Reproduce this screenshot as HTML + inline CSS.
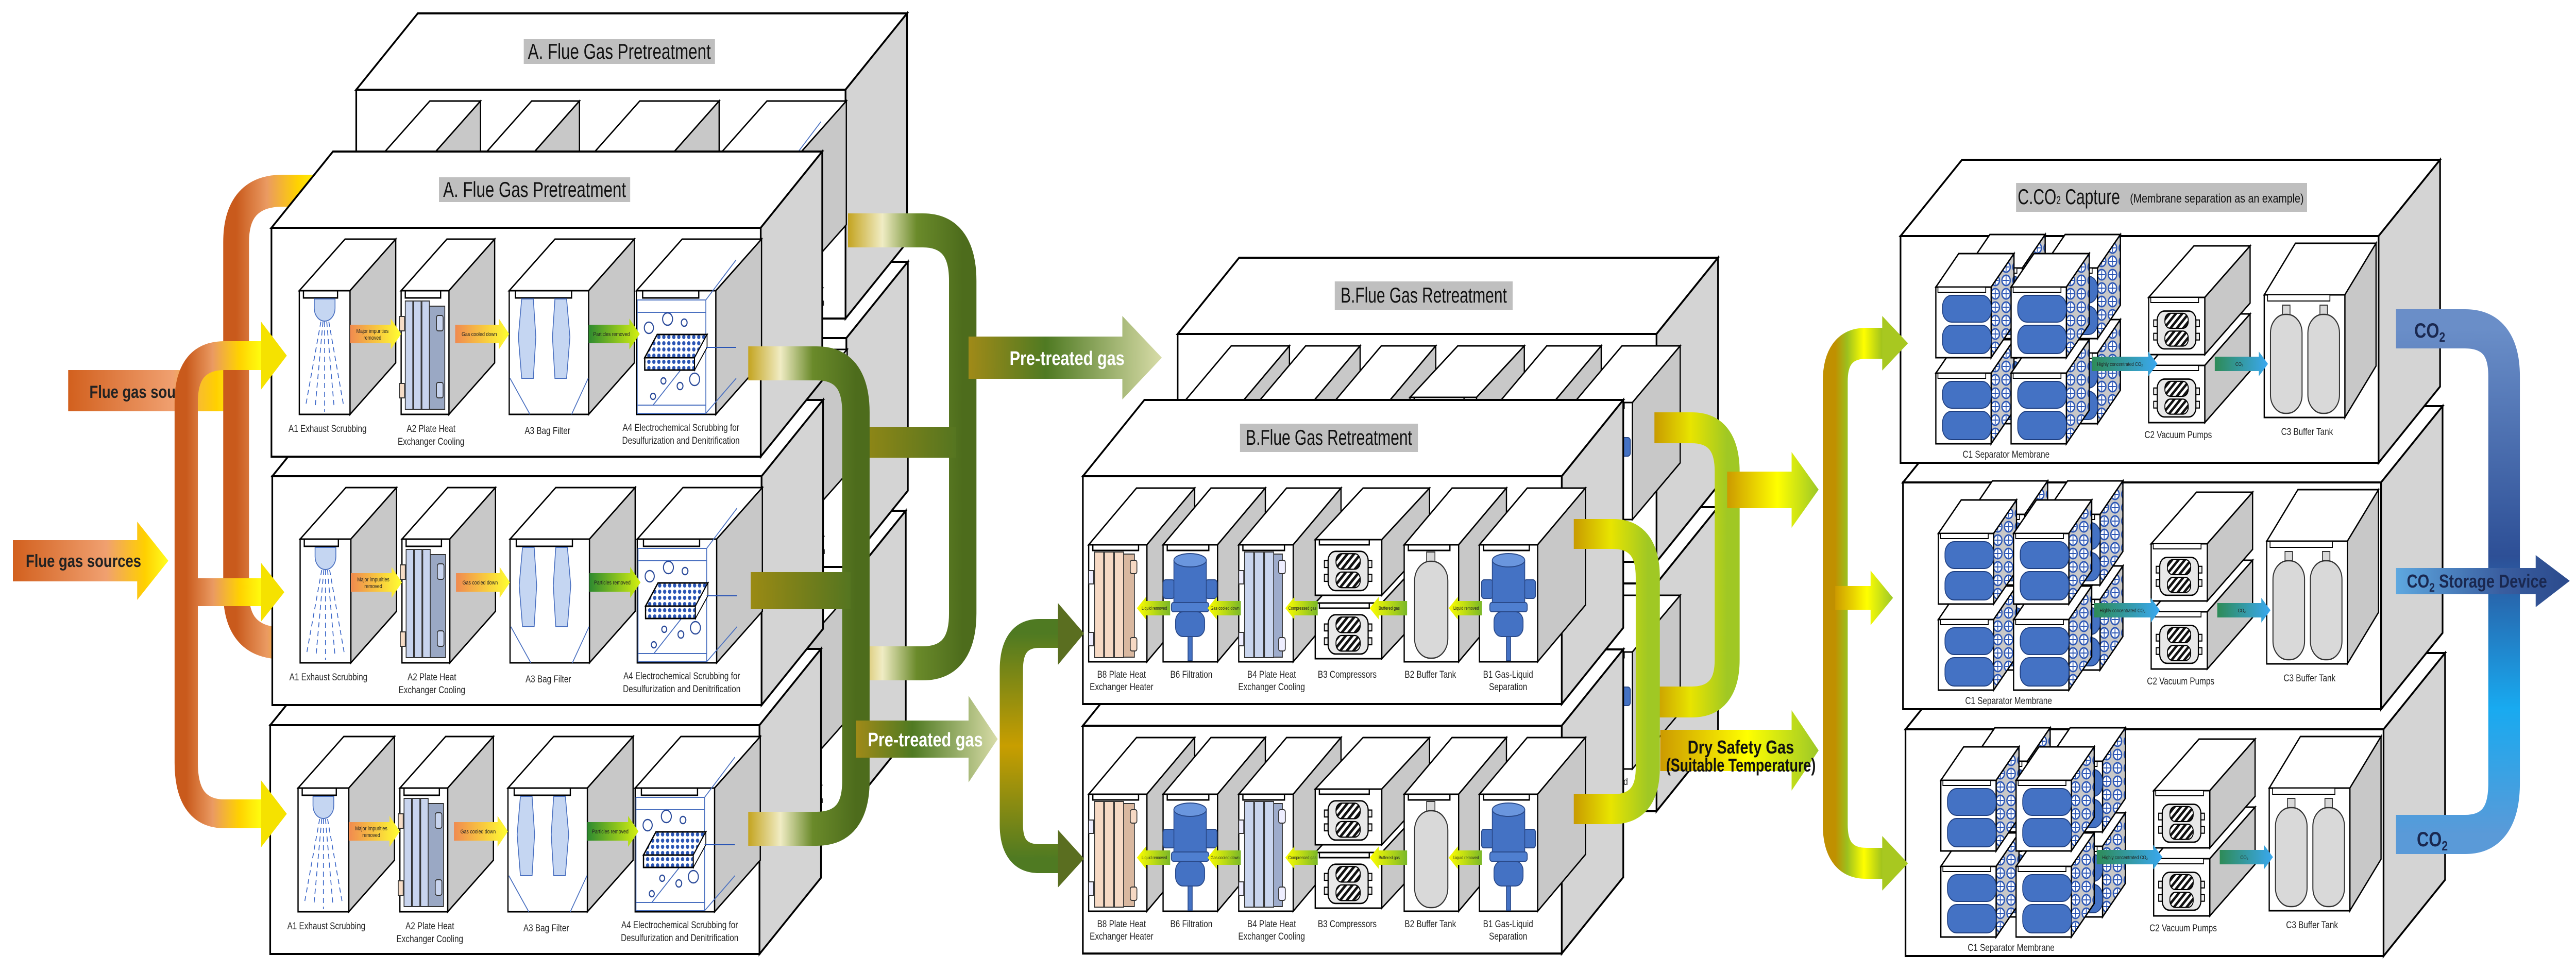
<!DOCTYPE html>
<html><head><meta charset="utf-8"><style>
html,body{margin:0;padding:0;background:#fff;width:100%;height:100%;overflow:hidden}
svg{display:block;position:absolute;left:0;top:0;width:100vw;height:100vh}
.l{font-family:"Liberation Sans Narrow","Liberation Sans",sans-serif;font-size:19px;fill:#222;text-anchor:middle}
.s{font-family:"Liberation Sans Narrow","Liberation Sans",sans-serif;font-size:11px;fill:#222;text-anchor:middle}
.t{font-family:"Liberation Sans",sans-serif;font-size:42px;fill:#111}
.b{font-family:"Liberation Sans",sans-serif;font-weight:bold}
</style></head><body>
<svg viewBox="0 0 6197 1882" preserveAspectRatio="none" xmlns="http://www.w3.org/2000/svg" overflow="hidden">
<defs>
<pattern id="dots" width="12" height="12" patternUnits="userSpaceOnUse"><rect width="12" height="12" fill="#fff"/><circle cx="6" cy="6" r="4" fill="#2a55b5"/></pattern>
<pattern id="hatch" width="10" height="10" patternUnits="userSpaceOnUse" patternTransform="rotate(45)"><rect width="10" height="10" fill="#fff"/><rect width="5" height="10" fill="#111"/></pattern>
<pattern id="mcirc" width="26" height="26" patternUnits="userSpaceOnUse"><rect width="26" height="26" fill="#c8c8c8"/><circle cx="13" cy="13" r="10" fill="#fff" stroke="#2a55b5" stroke-width="3"/><path d="M13,5V21M5,13H21" stroke="#2a55b5" stroke-width="2"/></pattern>
<linearGradient id="gO" x1="0" y1="0" x2="1" y2="0"><stop offset="0" stop-color="#c95a1c"/><stop offset="0.35" stop-color="#ea9a62"/><stop offset="0.7" stop-color="#ffd200"/><stop offset="1" stop-color="#ffff10"/></linearGradient>
<linearGradient id="gOa" x1="0" y1="0" x2="1" y2="0"><stop offset="0" stop-color="#d2601e"/><stop offset="0.6" stop-color="#f0a070"/><stop offset="0.85" stop-color="#ffd000"/><stop offset="1" stop-color="#ffff20"/></linearGradient>
<linearGradient id="gG" x1="0" y1="0" x2="1" y2="0"><stop offset="0" stop-color="#c4a420"/><stop offset="0.3" stop-color="#f0ecc4"/><stop offset="0.6" stop-color="#6a8a2a"/><stop offset="1" stop-color="#4d6c1c"/></linearGradient>
<linearGradient id="gGb" x1="0" y1="0" x2="1" y2="0"><stop offset="0" stop-color="#9a8a14"/><stop offset="1" stop-color="#557520"/></linearGradient>
<linearGradient id="gGa" x1="0" y1="0" x2="1" y2="0"><stop offset="0" stop-color="#a08a18"/><stop offset="0.4" stop-color="#4f7a22"/><stop offset="1" stop-color="#d8dca8"/></linearGradient>
<linearGradient id="gG3" x1="0" y1="0" x2="0" y2="1"><stop offset="0" stop-color="#4f7a22"/><stop offset="0.5" stop-color="#c89e00"/><stop offset="1" stop-color="#4f7a22"/></linearGradient>
<linearGradient id="gY" x1="0" y1="0" x2="1" y2="0"><stop offset="0" stop-color="#c89b00"/><stop offset="0.5" stop-color="#e8e400"/><stop offset="1" stop-color="#a0c824"/></linearGradient>
<linearGradient id="gYa" x1="0" y1="0" x2="1" y2="0"><stop offset="0" stop-color="#cc9a00"/><stop offset="0.55" stop-color="#ffff00"/><stop offset="1" stop-color="#9cc828"/></linearGradient>
<linearGradient id="gY3" x1="0" y1="0" x2="1" y2="0"><stop offset="0" stop-color="#c09000"/><stop offset="0.25" stop-color="#9cc01e"/><stop offset="0.6" stop-color="#ffff00"/><stop offset="1" stop-color="#9cc01e"/></linearGradient>
<linearGradient id="gBl" x1="0" y1="0" x2="0" y2="1"><stop offset="0" stop-color="#6a8ec8"/><stop offset="0.45" stop-color="#2d4f96"/><stop offset="0.75" stop-color="#18aaf0"/><stop offset="1" stop-color="#5a9ad8"/></linearGradient>
<linearGradient id="gBa" x1="0" y1="0" x2="1" y2="0"><stop offset="0" stop-color="#5ea8e0"/><stop offset="0.6" stop-color="#3a5ea0"/><stop offset="1" stop-color="#2b4a8c"/></linearGradient>
<linearGradient id="sO" x1="0" y1="0" x2="1" y2="0"><stop offset="0" stop-color="#f08a50"/><stop offset="1" stop-color="#ffff30"/></linearGradient>
<linearGradient id="sG" x1="0" y1="0" x2="1" y2="0"><stop offset="0" stop-color="#2e8a30"/><stop offset="1" stop-color="#d4f010"/></linearGradient>
<linearGradient id="sY" x1="0" y1="0" x2="1" y2="0"><stop offset="0" stop-color="#ffff00"/><stop offset="1" stop-color="#7ab828"/></linearGradient>
<linearGradient id="sB" x1="0" y1="0" x2="1" y2="0"><stop offset="0" stop-color="#2e8b57"/><stop offset="1" stop-color="#3aa8f0"/></linearGradient>

<g id="cmp"><rect x="0" y="22" width="12" height="12" fill="#eee" stroke="#000" stroke-width="2"/><rect x="0" y="46" width="12" height="12" fill="#eee" stroke="#000" stroke-width="2"/><rect x="90" y="22" width="12" height="12" fill="#eee" stroke="#000" stroke-width="2"/><rect x="90" y="46" width="12" height="12" fill="#eee" stroke="#000" stroke-width="2"/><rect x="8" y="6" width="86" height="68" rx="16" fill="#e8e8e8" stroke="#000" stroke-width="2.5"/><rect x="25" y="10" width="52" height="27" rx="12" fill="url(#hatch)" stroke="#000" stroke-width="2"/><rect x="25" y="42" width="52" height="27" rx="12" fill="url(#hatch)" stroke="#000" stroke-width="2"/></g>

<g id="a1"><polygon points="0,0 110,-100 232,-100 122,0" fill="#fff" stroke="#000" stroke-width="3"/><polygon points="122,0 232,-100 232,140 122,240" fill="#c8c8c8" stroke="#000" stroke-width="3"/><rect width="122" height="240" fill="#fff" stroke="#000" stroke-width="3"/><rect x="10" y="0" width="82" height="14" fill="#fff" stroke="#000" stroke-width="3"/><path d="M36,16 L36,34 A25,25 0 0 0 86,34 L86,16 Z" fill="#c5d6f2" stroke="#4a70c0" stroke-width="2"/><g stroke="#3a66c8" stroke-width="2" stroke-dasharray="10 7"><path d="M52,60L15,225M57,60L38,228M61,60L61,235M66,60L84,228M71,60L107,225"/></g></g>
<g id="a2"><polygon points="0,0 110,-100 225,-100 115,0" fill="#fff" stroke="#000" stroke-width="3"/><polygon points="115,0 225,-100 225,140 115,240" fill="#c8c8c8" stroke="#000" stroke-width="3"/><rect width="115" height="240" fill="#fff" stroke="#000" stroke-width="3"/><rect x="10" y="0" width="85" height="14" fill="#fff" stroke="#000" stroke-width="3"/><rect x="30" y="30" width="75" height="200" fill="#9aa8c4" stroke="#333" stroke-width="2"/><rect x="10" y="20" width="18" height="210" fill="#c8d4ee" stroke="#333" stroke-width="2"/><rect x="30" y="20" width="18" height="210" fill="#c8d4ee" stroke="#333" stroke-width="2"/><rect x="50" y="20" width="18" height="210" fill="#c8d4ee" stroke="#333" stroke-width="2"/><rect x="-4" y="50" width="12" height="28" fill="#f6dcc6" stroke="#333" stroke-width="2"/><rect x="-4" y="180" width="12" height="28" fill="#f6dcc6" stroke="#333" stroke-width="2"/><rect x="85" y="48" width="16" height="30" rx="4" fill="#c8d4ee" stroke="#333" stroke-width="2"/><rect x="85" y="178" width="16" height="30" rx="4" fill="#c8d4ee" stroke="#333" stroke-width="2"/></g>
<g id="a3"><polygon points="0,0 110,-100 301,-100 191,0" fill="#fff" stroke="#000" stroke-width="3"/><polygon points="191,0 301,-100 301,140 191,240" fill="#c8c8c8" stroke="#000" stroke-width="3"/><rect width="191" height="240" fill="#fff" stroke="#000" stroke-width="3"/><rect x="15" y="0" width="135" height="14" fill="#fff" stroke="#000" stroke-width="3"/><polygon points="30,16 58,16 64,90 58,170 30,170 22,90" fill="#c5d6f2" stroke="#4a70c0" stroke-width="2"/><polygon points="110,16 138,16 146,90 138,170 110,170 104,90" fill="#c5d6f2" stroke="#4a70c0" stroke-width="2"/><path d="M2,170L50,240M190,170L150,240" stroke="#4a70c0" stroke-width="2"/></g>
<g id="a4"><polygon points="0,0 110,-100 301,-100 191,0" fill="#fff" stroke="#000" stroke-width="3"/><polygon points="191,0 301,-100 301,140 191,240" fill="#c8c8c8" stroke="#000" stroke-width="3"/><rect width="191" height="240" fill="#fff" stroke="#000" stroke-width="3"/><rect x="15" y="0" width="135" height="14" fill="#fff" stroke="#000" stroke-width="3"/><rect x="2" y="18" width="165" height="220" fill="none" stroke="#4a70c0" stroke-width="2"/><path d="M2,42H167M2,222H167M167,18L240,-60M167,238L240,170M40,222L120,140" stroke="#4a70c0" stroke-width="2" fill="none"/><polygon points="20,130 50,85 170,85 140,130" fill="url(#dots)" stroke="#000" stroke-width="3"/><rect x="20" y="130" width="120" height="24" fill="url(#dots)" stroke="#000" stroke-width="3"/><polygon points="140,130 170,85 170,110 140,154" fill="#fff" stroke="#000" stroke-width="2"/><g fill="none" stroke="#2a4a9a" stroke-width="2.5"><circle cx="30" cy="72" r="11"/><circle cx="75" cy="55" r="12"/><circle cx="115" cy="62" r="7"/><circle cx="65" cy="175" r="6"/><circle cx="105" cy="185" r="7"/><circle cx="140" cy="172" r="12"/><circle cx="40" cy="205" r="6"/></g><path d="M167,110H240" stroke="#2a55b5" stroke-width="2"/></g>

<g id="cb140"><polygon points="0,0 115,-110 255,-110 140,0" fill="#fff" stroke="#000" stroke-width="3"/><polygon points="140,0 255,-110 255,117 140,227" fill="#c8c8c8" stroke="#000" stroke-width="3"/><rect width="140" height="227" fill="#fff" stroke="#000" stroke-width="3"/><rect x="10" y="0" width="110" height="11" fill="#fff" stroke="#000" stroke-width="3"/></g>
<g id="cb131"><polygon points="0,0 115,-110 246,-110 131,0" fill="#fff" stroke="#000" stroke-width="3"/><polygon points="131,0 246,-110 246,117 131,227" fill="#c8c8c8" stroke="#000" stroke-width="3"/><rect width="131" height="227" fill="#fff" stroke="#000" stroke-width="3"/><rect x="10" y="0" width="100" height="11" fill="#fff" stroke="#000" stroke-width="3"/></g>
<g id="b8"><use href="#cb140"/><rect x="30" y="18" width="80" height="200" fill="#d9b8a0" stroke="#333" stroke-width="2"/><rect x="14" y="14" width="22" height="205" fill="#f6d9c4" stroke="#333" stroke-width="2"/><rect x="38" y="14" width="22" height="205" fill="#f6d9c4" stroke="#333" stroke-width="2"/><rect x="62" y="14" width="22" height="205" fill="#f6d9c4" stroke="#333" stroke-width="2"/><rect x="0" y="50" width="12" height="26" fill="#eef" stroke="#333" stroke-width="2"/><rect x="0" y="170" width="12" height="26" fill="#eef" stroke="#333" stroke-width="2"/><rect x="100" y="30" width="16" height="26" rx="4" fill="#f6d9c4" stroke="#333" stroke-width="2"/><rect x="100" y="180" width="16" height="26" rx="4" fill="#f6d9c4" stroke="#333" stroke-width="2"/></g>
<g id="b4"><use href="#cb131"/><rect x="30" y="18" width="75" height="200" fill="#9eaccc" stroke="#333" stroke-width="2"/><rect x="14" y="14" width="22" height="205" fill="#c9d5ee" stroke="#333" stroke-width="2"/><rect x="38" y="14" width="22" height="205" fill="#c9d5ee" stroke="#333" stroke-width="2"/><rect x="62" y="14" width="22" height="205" fill="#c9d5ee" stroke="#333" stroke-width="2"/><rect x="0" y="50" width="12" height="26" fill="#eef" stroke="#333" stroke-width="2"/><rect x="0" y="170" width="12" height="26" fill="#eef" stroke="#333" stroke-width="2"/><rect x="96" y="30" width="16" height="26" rx="4" fill="#eef" stroke="#333" stroke-width="2"/><rect x="96" y="180" width="16" height="26" rx="4" fill="#eef" stroke="#333" stroke-width="2"/></g>
<g id="cyl"><rect x="0" y="68" width="28" height="36" rx="6" fill="#4472c4" stroke="#2a4a8a" stroke-width="2"/><rect x="102" y="68" width="28" height="36" rx="6" fill="#4472c4" stroke="#2a4a8a" stroke-width="2"/><rect x="60" y="170" width="10" height="55" fill="#4472c4" stroke="#2a4a8a" stroke-width="2"/><rect x="26" y="30" width="78" height="100" fill="#4472c4" stroke="#2a4a8a" stroke-width="2"/><ellipse cx="65" cy="30" rx="39" ry="13" fill="#6a96de" stroke="#2a4a8a" stroke-width="2"/><rect x="30" y="130" width="70" height="48" rx="18" fill="#4472c4" stroke="#2a4a8a" stroke-width="2"/><rect x="20" y="112" width="90" height="18" rx="5" fill="#4f7fd0" stroke="#2a4a8a" stroke-width="2"/></g>
<g id="b6"><use href="#cb131"/><use href="#cyl"/></g>
<g id="b1"><use href="#cb140"/><use href="#cyl" x="5"/></g>
<g id="b2"><use href="#cb131"/><rect x="54" y="14" width="20" height="22" fill="#d9d9d9" stroke="#333" stroke-width="2"/><rect x="25" y="32" width="80" height="188" rx="38" fill="#d9d9d9" stroke="#333" stroke-width="2.5"/></g>
<g id="b3c"><polygon points="0,0 115,-100 275,-100 160,0" fill="#fff" stroke="#000" stroke-width="3"/><polygon points="160,0 275,-100 275,8 160,108" fill="#c8c8c8" stroke="#000" stroke-width="3"/><rect width="160" height="108" fill="#fff" stroke="#000" stroke-width="3"/><rect x="10" y="0" width="120" height="10" fill="#fff" stroke="#000" stroke-width="3"/><use href="#cmp" transform="translate(22,16) scale(1.12)"/></g>

<g id="mc"><polygon points="0,0 55,-65 188,-65 133,0" fill="#fff" stroke="#000" stroke-width="3"/><polygon points="133,0 188,-65 188,72 133,137" fill="url(#mcirc)" stroke="#000" stroke-width="3"/><rect width="133" height="137" fill="#fff" stroke="#000" stroke-width="3"/><rect x="5" y="0" width="115" height="10" fill="#fff" stroke="#000" stroke-width="2"/><rect x="16" y="16" width="117" height="52" rx="22" fill="#4472c4" stroke="#1f3f80" stroke-width="2"/><rect x="16" y="74" width="117" height="55" rx="22" fill="#4472c4" stroke="#1f3f80" stroke-width="2"/></g>
<g id="pc"><polygon points="0,0 109,-100 244,-100 135,0" fill="#fff" stroke="#000" stroke-width="3"/><polygon points="135,0 244,-100 244,11 135,111" fill="#c8c8c8" stroke="#000" stroke-width="3"/><rect width="135" height="111" fill="#fff" stroke="#000" stroke-width="3"/><rect x="5" y="0" width="115" height="10" fill="#fff" stroke="#000" stroke-width="2"/><use href="#cmp" transform="translate(12,20) scale(1.08)"/></g>
<g id="tk"><polygon points="0,0 75,-100 269,-100 194,0" fill="#fff" stroke="#000" stroke-width="3"/><polygon points="194,0 269,-100 269,138 194,238" fill="#c8c8c8" stroke="#000" stroke-width="3"/><rect width="194" height="238" fill="#fff" stroke="#000" stroke-width="3"/><rect x="8" y="0" width="150" height="12" fill="#fff" stroke="#000" stroke-width="2"/><rect x="44" y="20" width="18" height="22" fill="#d9d9d9" stroke="#333" stroke-width="2"/><rect x="134" y="20" width="18" height="22" fill="#d9d9d9" stroke="#333" stroke-width="2"/><rect x="15" y="38" width="76" height="192" rx="36" fill="#d9d9d9" stroke="#333" stroke-width="2.5"/><rect x="105" y="38" width="76" height="192" rx="36" fill="#d9d9d9" stroke="#333" stroke-width="2.5"/></g>

<g id="boxA">
<polygon points="0,0 148,-148 1325,-148 1177,0" fill="#fff" stroke="#000" stroke-width="4"/>
<polygon points="1177,0 1325,-148 1325,296 1177,444" fill="#d4d4d4" stroke="#000" stroke-width="4"/>
<rect width="1177" height="444" fill="#fff" stroke="#000" stroke-width="4"/>
<rect x="403" y="-98" width="460" height="48" fill="#bfbfbf"/>
<text class="t" x="633" y="-60" text-anchor="middle" textLength="440" lengthAdjust="spacingAndGlyphs">A. Flue Gas Pretreatment</text>
<use href="#a1" x="67" y="122"/><use href="#a2" x="312" y="122"/><use href="#a3" x="572" y="122"/><use href="#a4" x="878" y="122"/>
<polygon points="189,188 287,188 287,176 312,206 287,236 287,224 189,224" fill="url(#sO)"/>
<polygon points="442,188 547,188 547,176 572,206 547,236 547,224 442,224" fill="url(#sO)"/>
<polygon points="763,188 861,188 861,176 886,206 861,236 861,224 763,224" fill="url(#sG)"/>
<text class="s" x="243" y="204">Major impurities</text><text class="s" x="243" y="217">removed</text>
<text class="s" x="500" y="210">Gas cooled down</text>
<text class="s" x="818" y="210">Particles removed</text>
<text class="l" x="135" y="396">A1 Exhaust Scrubbing</text>
<text class="l" x="384" y="396">A2 Plate Heat</text><text class="l" x="384" y="421">Exchanger Cooling</text>
<text class="l" x="664" y="400">A3 Bag Filter</text>
<text class="l" x="985" y="394">A4 Electrochemical Scrubbing for</text><text class="l" x="985" y="419">Desulfurization and Denitrification</text>
</g>

<g id="boxB">
<polygon points="0,0 148,-148 1300,-148 1152,0" fill="#fff" stroke="#000" stroke-width="4"/>
<polygon points="1152,0 1300,-148 1300,294 1152,442" fill="#d4d4d4" stroke="#000" stroke-width="4"/>
<rect width="1152" height="442" fill="#fff" stroke="#000" stroke-width="4"/>
<rect x="378" y="-102" width="428" height="55" fill="#bfbfbf"/>
<text class="t" x="592" y="-61" text-anchor="middle" textLength="400" lengthAdjust="spacingAndGlyphs">B.Flue Gas Retreatment</text>
<use href="#b8" x="14" y="133"/><use href="#b6" x="193" y="133"/><use href="#b4" x="375" y="133"/>
<use href="#b3c" x="559" y="246"/><use href="#b3c" x="559" y="123"/>
<use href="#b2" x="773" y="133"/><use href="#b1" x="954" y="133"/>
<g fill="url(#sY)">
<polygon points="210,242 152,242 152,234 130,256 152,278 152,270 210,270"/>
<polygon points="380,242 322,242 322,234 300,256 322,278 322,270 380,270"/>
<polygon points="565,242 509,242 509,234 487,256 509,278 509,270 565,270"/>
<polygon points="780,242 712,242 712,234 690,256 712,278 712,270 780,270"/>
<polygon points="960,242 902,242 902,234 880,256 902,278 902,270 960,270"/>
</g>
<g class="s" style="font-size:9px"><text x="172" y="259">Liquid removed</text><text x="342" y="259">Gas cooled down</text><text x="528" y="259">Compressed gas</text><text x="737" y="259">Buffered gas</text><text x="922" y="259">Liquid removed</text></g>
<text class="l" x="93" y="391">B8 Plate Heat</text><text class="l" x="93" y="415">Exchanger Heater</text>
<text class="l" x="261" y="391">B6 Filtration</text>
<text class="l" x="454" y="391">B4 Plate Heat</text><text class="l" x="454" y="415">Exchanger Cooling</text>
<text class="l" x="636" y="391">B3 Compressors</text>
<text class="l" x="836" y="391">B2 Buffer Tank</text>
<text class="l" x="1023" y="391">B1 Gas-Liquid</text><text class="l" x="1023" y="415">Separation</text>
</g>

<g id="boxC">
<polygon points="0,0 148,-148 1298,-148 1150,0" fill="#fff" stroke="#000" stroke-width="4"/>
<polygon points="1150,0 1298,-148 1298,292 1150,440" fill="#d4d4d4" stroke="#000" stroke-width="4"/>
<rect width="1150" height="440" fill="#fff" stroke="#000" stroke-width="4"/>
<rect x="278" y="-103" width="700" height="56" fill="#bfbfbf"/>
<text class="t" x="282" y="-62" textLength="246" lengthAdjust="spacingAndGlyphs">C.CO<tspan font-size="22">2</tspan> Capture</text>
<text x="552" y="-65" style="font-family:'Liberation Sans',sans-serif;font-size:24px;fill:#111" textLength="418" lengthAdjust="spacingAndGlyphs">(Membrane separation as an example)</text>
<use href="#mc" x="160" y="227"/><use href="#mc" x="341" y="227"/>
<use href="#mc" x="160" y="62"/><use href="#mc" x="341" y="62"/>
<use href="#mc" x="85" y="266"/><use href="#mc" x="266" y="266"/>
<use href="#mc" x="85" y="99"/><use href="#mc" x="266" y="99"/>
<use href="#pc" x="597" y="251"/><use href="#pc" x="597" y="119"/>
<use href="#tk" x="875" y="114"/>
<polygon points="460,234 596,234 596,224 618,248 596,272 596,262 460,262" fill="url(#sB)"/>
<polygon points="756,234 862,234 862,224 884,248 862,272 862,262 756,262" fill="url(#sB)"/>
<text class="s" x="528" y="252" style="font-size:10px">Highly concentrated CO₂</text>
<text class="s" x="815" y="252" style="font-size:10px">CO₂</text>
<text class="l" x="254" y="430">C1 Separator Membrane</text>
<text class="l" x="668" y="392">C2 Vacuum Pumps</text>
<text class="l" x="978" y="386">C3 Buffer Tank</text>
</g>
</defs>

<rect width="6197" height="1882" fill="#fff"/>

<rect x="164" y="718" width="420" height="80" fill="url(#gOa)"/>
<text class="b" x="215" y="772" font-size="34" fill="#222">Flue gas source</text>
<polygon points="31,1048 330,1048 330,1012 405,1088 330,1164 330,1128 31,1128" fill="url(#gOa)"/>
<text class="b" x="62" y="1100" font-size="34" fill="#222">Flue gas sources</text>

<use href="#boxA" x="854" y="1139"/>
<use href="#boxA" x="859" y="656"/>
<use href="#boxA" x="857" y="174"/>

<path d="M 680,1248 Q 568,1248 568,1150 L 568,470 Q 568,370 680,370 L 780,370" fill="none" stroke="url(#gO)" stroke-width="62"/>

<use href="#boxA" x="650" y="1407"/>
<use href="#boxA" x="655" y="924"/>
<use href="#boxA" x="653" y="442"/>

<path d="M 630,690 L 540,690 Q 448,690 448,780 L 448,1480 Q 448,1579 540,1579 L 630,1579" fill="none" stroke="url(#gO)" stroke-width="56"/>
<rect x="448" y="1122" width="185" height="54" fill="url(#gO)"/>
<g fill="#f5e200"><polygon points="628,624 690,690 628,756"/><polygon points="628,1092 684,1149 628,1206"/><polygon points="628,1514 690,1579 628,1644"/></g>

<path d="M 2040,447 L 2220,447 Q 2316,447 2316,545 L 2316,1190 Q 2316,1287 2220,1287 L 2040,1287" fill="none" stroke="url(#gG)" stroke-width="66"/>
<rect x="2040" y="828" width="260" height="60" fill="url(#gGb)"/>
<polygon points="2330,653 2700,653 2700,613 2795,694 2700,775 2700,735 2330,735" fill="url(#gGa)"/>
<path d="M 1800,705 L 1965,705 Q 2059,705 2059,800 L 2059,1515 Q 2059,1608 1965,1608 L 1800,1608" fill="none" stroke="url(#gG)" stroke-width="66"/>
<rect x="1806" y="1110" width="240" height="72" fill="url(#gGb)"/>
<polygon points="2059,1398 2330,1398 2330,1350 2400,1434 2330,1518 2330,1470 2059,1470" fill="url(#gGa)"/>

<use href="#boxB" x="2833" y="1132"/>
<use href="#boxB" x="2833" y="648"/>
<text class="b" x="2567" y="708" font-size="38" fill="#fff" text-anchor="middle">Pre-treated gas</text>
<text class="b" x="2226" y="1448" font-size="38" fill="#fff" text-anchor="middle">Pre-treated gas</text>

<use href="#boxB" x="2605" y="1408"/>
<use href="#boxB" x="2605" y="924"/>

<path d="M 2550,1229 L 2500,1229 Q 2433,1229 2433,1300 L 2433,1600 Q 2433,1666 2500,1666 L 2550,1666" fill="none" stroke="url(#gG3)" stroke-width="56"/>
<g fill="#5a6e20"><polygon points="2545,1170 2608,1229 2545,1290"/><polygon points="2545,1610 2608,1666 2545,1722"/></g>

<path d="M 3980,830 L 4070,830 Q 4155,830 4155,915 L 4155,1280 Q 4155,1362 4070,1362 L 3980,1362" fill="none" stroke="url(#gY)" stroke-width="60"/>
<polygon points="4155,915 4310,915 4310,877 4375,950 4310,1024 4310,986 4155,986" fill="url(#gYa)"/>
<path d="M 3786,1036 L 3880,1036 Q 3964,1036 3964,1120 L 3964,1490 Q 3964,1570 3880,1570 L 3786,1570" fill="none" stroke="url(#gY)" stroke-width="58"/>
<polygon points="3994,1416 4310,1416 4310,1378 4375,1456 4310,1534 4310,1496 3994,1496" fill="url(#gYa)"/>
<text class="b" x="4188" y="1462" font-size="36" fill="#111" text-anchor="middle">Dry Safety Gas</text>
<text class="b" x="4188" y="1497" font-size="36" fill="#111" text-anchor="middle" textLength="360" lengthAdjust="spacingAndGlyphs">(Suitable Temperature)</text>

<use href="#boxC" x="4584" y="1415"/>
<use href="#boxC" x="4578" y="936"/>
<use href="#boxC" x="4572" y="458"/>

<path d="M 4530,666 L 4490,666 Q 4415,666 4415,740 L 4415,1600 Q 4415,1675 4490,1675 L 4530,1675" fill="none" stroke="url(#gY3)" stroke-width="60"/>
<polygon points="4415,1137 4500,1137 4500,1107 4554,1160 4500,1213 4500,1183 4415,1183" fill="url(#gYa)"/>
<g fill="#a8c820"><polygon points="4528,613 4590,666 4528,719"/><polygon points="4528,1622 4590,1675 4528,1728"/></g>

<path d="M 5764,638 L 5930,638 Q 6024,638 6024,730 L 6024,1520 Q 6024,1619 5930,1619 L 5764,1619" fill="none" stroke="url(#gBl)" stroke-width="76"/>
<polygon points="5764,1102 6100,1102 6100,1077 6182,1127 6100,1178 6100,1153 5764,1153" fill="url(#gBa)"/>
<text class="b" x="5808" y="655" font-size="40" fill="#1a2850">CO<tspan font-size="26" dy="8">2</tspan></text>
<text class="b" x="5814" y="1642" font-size="40" fill="#1a2850">CO<tspan font-size="26" dy="8">2</tspan></text>
<text class="b" x="5790" y="1140" font-size="36" fill="#1a2850">CO<tspan font-size="24" dy="8">2</tspan><tspan dy="-8"> Storage Device</tspan></text>
</svg>
</body></html>
